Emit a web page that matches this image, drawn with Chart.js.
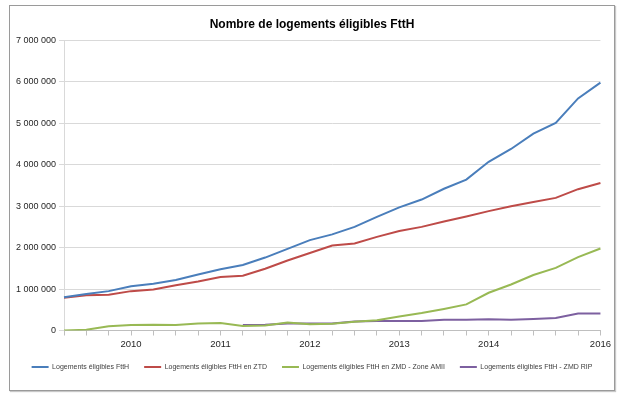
<!DOCTYPE html>
<html>
<head>
<meta charset="utf-8">
<script src="https://cdn.jsdelivr.net/npm/chart.js@4"></script>
<style>
  html, body { margin: 0; padding: 0; background: #fff; }
  .frame {
    position: absolute; left: 9px; top: 5px;
    width: 604px; height: 384px;
    border: 1px solid #9a9a9a;
    box-shadow: 1px 1px 1px #c8c8c8;
  }
  canvas { display: block; }
</style>
</head>
<body>
<div class="frame"><canvas id="ftth" width="604" height="384"></canvas></div>
<script>
// quarterly points, years shown where Excel put them
const periods = ['', '', '', '2010', '', '', '', '2011', '', '', '', '2012', '',
                 '', '', '2013', '', '', '', '2014', '', '', '', '', '2016'];

const totalFtth = [800000, 880000, 950000, 1070000, 1130000, 1220000, 1350000, 1480000, 1580000,
                   1760000, 1970000, 2180000, 2320000, 2500000, 2740000, 2970000, 3160000,
                   3420000, 3640000, 4070000, 4380000, 4750000, 5010000, 5600000, 5980000];
const ztd = [790000, 850000, 860000, 950000, 990000, 1090000, 1180000, 1290000, 1320000,
             1490000, 1690000, 1870000, 2050000, 2100000, 2260000, 2400000, 2500000,
             2630000, 2750000, 2880000, 3000000, 3100000, 3200000, 3410000, 3560000];
const zmdAmii = [0, 20000, 100000, 130000, 140000, 130000, 170000, 180000, 110000,
                 120000, 190000, 150000, 160000, 210000, 250000, 340000, 420000,
                 520000, 630000, 910000, 1110000, 1340000, 1510000, 1770000, 1980000];
const zmdRip = [null, null, null, null, null, null, null, null, 130000,
                140000, 170000, 170000, 170000, 220000, 230000, 230000, 230000,
                260000, 260000, 270000, 260000, 280000, 300000, 410000, 410000];

const yTicks = [0, 1000000, 2000000, 3000000, 4000000, 5000000, 6000000, 7000000];

const font = '"Liberation Sans", Arial, sans-serif';

function fmt(v) {
    return String(v).replace(/\B(?=(\d{3})+(?!\d))/g, ' ');
}

function series(label, data, color) {
    return {
        label: label,
        data: data,
        borderColor: color,
        backgroundColor: color,
        borderWidth: 2,
        pointRadius: 0,
        tension: 0,
        spanGaps: false
    };
}

new Chart(document.getElementById('ftth').getContext('2d'), {
    type: 'line',
    data: {
        labels: periods,
        datasets: [
            series('Logements éligibles FttH', totalFtth, '#4a7ebb'),
            series('Logements éligibles FttH en ZTD', ztd, '#be4b48'),
            series('Logements éligibles FttH en ZMD - Zone AMII', zmdAmii, '#98b954'),
            series('Logements éligibles FttH - ZMD RIP', zmdRip, '#7d60a0')
        ]
    },
    options: {
        responsive: false,
        animation: false,
        layout: { padding: { left: 0, right: 0, top: 0, bottom: 9.5 } },
        plugins: {
            title: {
                display: true,
                text: 'Nombre de logements éligibles FttH',
                color: '#000',
                font: { family: font, size: 12, weight: 'bold' },
                padding: { top: 11, bottom: 9 }
            },
            legend: {
                position: 'bottom',
                labels: {
                    boxWidth: 17,
                    boxHeight: 0,
                    padding: 15,
                    color: '#404040',
                    font: { family: font, size: 7 }
                }
            },
            tooltip: { enabled: false }
        },
        scales: {
            x: {
                offset: false,
                afterFit: (scale) => { scale.height = 18; },
                grid: { drawOnChartArea: false, drawTicks: true, tickLength: 5, color: '#bfbfbf' },
                border: { color: '#bfbfbf' },
                ticks: {
                    autoSkip: false, maxRotation: 0, padding: 3,
                    color: '#262626',
                    font: { family: font, size: 9.5 }
                }
            },
            y: {
                min: 0,
                max: 7000000,
                afterBuildTicks: (scale) => { scale.ticks = yTicks.map(v => ({ value: v })); },
                afterFit: (scale) => { scale.width = 54; },
                grid: { color: '#d9d9d9', tickLength: 5 },
                border: { color: '#d9d9d9' },
                ticks: {
                    padding: 3,
                    color: '#262626',
                    font: { family: font, size: 9 },
                    callback: (v) => fmt(v)
                }
            },
            // empty strip on the right, keeps the plot off the frame edge
            spacer: {
                type: 'linear',
                position: 'right',
                afterFit: (scale) => { scale.width = 13; },
                grid: { display: false },
                border: { display: false },
                ticks: { display: false }
            }
        }
    }
});
</script>
</body>
</html>
